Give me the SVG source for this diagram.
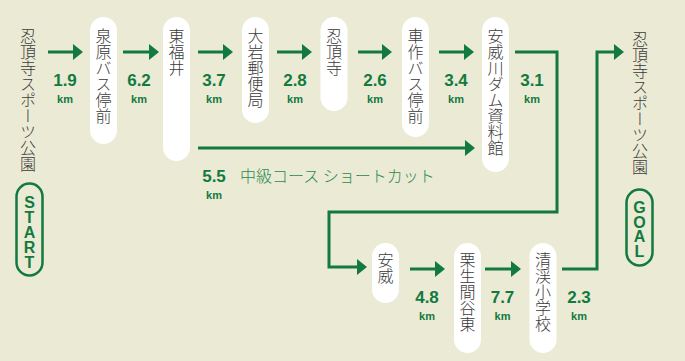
<svg xmlns="http://www.w3.org/2000/svg" width="685" height="361" viewBox="0 0 685 361">
<style>
.bg{fill:#ebead5}
.pill{fill:#ffffff}
.vt{font-family:"Noto Sans CJK JP","Noto Sans CJK SC",sans-serif;font-size:16px;font-weight:300;fill:#3a3a3a;writing-mode:vertical-rl;text-anchor:start}
.num{font-family:"Liberation Sans",Arial,sans-serif;font-weight:bold;font-size:17px;fill:#127a3e;text-anchor:middle}
.km{font-family:"Liberation Sans",Arial,sans-serif;font-weight:bold;font-size:11px;fill:#127a3e;text-anchor:middle}
.lbl{font-family:"Liberation Sans",Arial,sans-serif;font-weight:bold;font-size:16px;fill:#127a3e;writing-mode:vertical-rl;text-orientation:upright;text-anchor:start}
.ln{fill:none;stroke:#127a3e;stroke-width:3;stroke-linejoin:miter}
.sc{font-family:"Noto Sans CJK JP",sans-serif;font-size:16px;font-weight:300;fill:#2a8a4e}
.badge{fill:none;stroke:#127a3e;stroke-width:2.5}
</style>
<defs>
<marker id="ah" markerUnits="userSpaceOnUse" markerWidth="10" markerHeight="16" refX="4" refY="8" orient="auto">
<path d="M0,0 L10,8 L0,16 Z" fill="#127a3e"/>
</marker>
</defs>
<rect class="bg" x="0" y="0" width="685" height="361"/>

<g id="start">
<text class="vt" x="28" y="28 44 60 76 92 108 124 140 156">忍頂寺スポーツ公園</text>
<rect class="badge" x="16.5" y="183.5" width="26" height="92" rx="13"/>
<text class="lbl" x="29.5" y="194 209 224 239 254">START</text>
</g>

<g id="n1"><rect class="pill" x="90" y="17" width="27" height="127" rx="13.5"/><text class="vt" x="103.5" y="28 44 60 76 92 108">泉原バス停前</text></g>
<g id="n2"><rect class="pill" x="163" y="17" width="27" height="144" rx="13.5"/><text class="vt" x="176.5" y="28 44 60">東福井</text></g>
<g id="n3"><rect class="pill" x="242" y="17" width="27" height="106" rx="13.5"/><text class="vt" x="255.5" y="28 44 60 76 92">大岩郵便局</text></g>
<g id="n4"><rect class="pill" x="320.5" y="17" width="27" height="94" rx="13.5"/><text class="vt" x="334" y="28 44 60">忍頂寺</text></g>
<g id="n5"><rect class="pill" x="402" y="17" width="27" height="120" rx="13.5"/><text class="vt" x="415.5" y="28 44 60 76 92 108">車作バス停前</text></g>
<g id="n6"><rect class="pill" x="482" y="17" width="27" height="155" rx="13.5"/><text class="vt" x="495.5" y="28 44 60 76 92 108 124 140">安威川ダム資料館</text></g>
<g id="n7"><rect class="pill" x="372" y="243" width="27" height="60" rx="13.5"/><text class="vt" x="385.5" y="252 268">安威</text></g>
<g id="n8"><rect class="pill" x="454" y="243" width="27" height="110" rx="13.5"/><text class="vt" x="467.5" y="252 268 284 300 316">栗生間谷東</text></g>
<g id="n9"><rect class="pill" x="529.5" y="243" width="27" height="110" rx="13.5"/><text class="vt" x="543" y="252 268 284 300 316">清渓小学校</text></g>

<g id="goal">
<text class="vt" x="640" y="31 47 63 79 95 111 127 143 159">忍頂寺スポーツ公園</text>
<rect class="badge" x="626.5" y="189.5" width="26" height="76" rx="13"/>
<text class="lbl" x="639.5" y="199 213.7 228.4 243.1">GOAL</text>
</g>

<g id="connectors">
<path class="ln" d="M48,52 H77" marker-end="url(#ah)"/>
<path class="ln" d="M123,52 H153" marker-end="url(#ah)"/>
<path class="ln" d="M198,52 H227" marker-end="url(#ah)"/>
<path class="ln" d="M277,52 H306" marker-end="url(#ah)"/>
<path class="ln" d="M358,52 H386" marker-end="url(#ah)"/>
<path class="ln" d="M439,52 H468" marker-end="url(#ah)"/>
<path class="ln" d="M198,148 H469" marker-end="url(#ah)"/>
<path class="ln" d="M515,52 H557 V212 H329 V267 H361" marker-end="url(#ah)"/>
<path class="ln" d="M410,269 H439" marker-end="url(#ah)"/>
<path class="ln" d="M485,269 H515" marker-end="url(#ah)"/>
<path class="ln" d="M562,269 H597 V52 H618" marker-end="url(#ah)"/>
</g>

<g id="distances">
<text class="num" x="65" y="86">1.9</text><text class="km" x="65" y="103">km</text>
<text class="num" x="139" y="86">6.2</text><text class="km" x="139" y="103">km</text>
<text class="num" x="214" y="86">3.7</text><text class="km" x="214" y="103">km</text>
<text class="num" x="295" y="86">2.8</text><text class="km" x="295" y="103">km</text>
<text class="num" x="375" y="86">2.6</text><text class="km" x="375" y="103">km</text>
<text class="num" x="456" y="86">3.4</text><text class="km" x="456" y="103">km</text>
<text class="num" x="532" y="86">3.1</text><text class="km" x="532" y="103">km</text>
<text class="num" x="214" y="182">5.5</text><text class="km" x="214" y="199">km</text>
<text class="sc" x="240" y="182">中級コース ショートカット</text>
<text class="num" x="427" y="303">4.8</text><text class="km" x="427" y="320">km</text>
<text class="num" x="502.5" y="303">7.7</text><text class="km" x="502.5" y="320">km</text>
<text class="num" x="579" y="303">2.3</text><text class="km" x="579" y="320">km</text>
</g>
</svg>
